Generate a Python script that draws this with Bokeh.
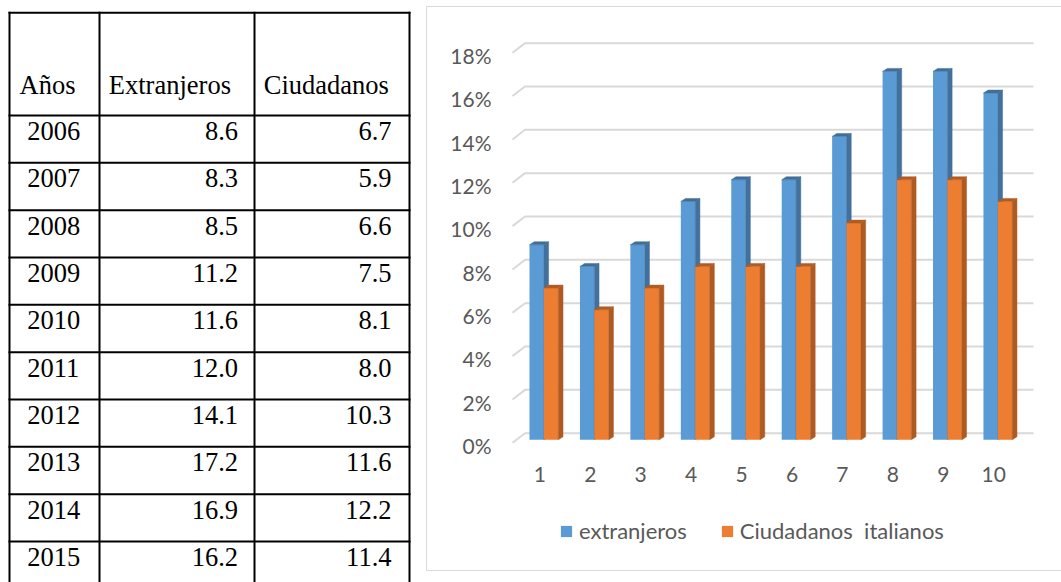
from bokeh.plotting import figure
from bokeh.models import (Range1d, LinearAxis, FixedTicker, PrintfTickFormatter,
                          Legend, LegendItem)
from bokeh.embed import file_html
from bokeh.resources import INLINE
from bokeh.core.properties import value

# ---------------- data ----------------
header = ["Años", "Extranjeros", "Ciudadanos"]
years = ["2006", "2007", "2008", "2009", "2010", "2011", "2012", "2013", "2014", "2015"]
extranjeros_tabla = ["8.6", "8.3", "8.5", "11.2", "11.6", "12.0", "14.1", "17.2", "16.9", "16.2"]
ciudadanos_tabla = ["6.7", "5.9", "6.6", "7.5", "8.1", "8.0", "10.3", "11.6", "12.2", "11.4"]

categorias = [1, 2, 3, 4, 5, 6, 7, 8, 9, 10]
extranjeros = [9, 8, 9, 11, 12, 12, 14, 17, 17, 16]
ciudadanos = [7, 6, 7, 8, 8, 8, 10, 12, 12, 11]
y_ticks = [0, 2, 4, 6, 8, 10, 12, 14, 16, 18]
legend_labels = ["extranjeros", "Ciudadanos  italianos"]

# ---------------- geometry ----------------
W, H = 1061, 582
px_y = 21.67      # pixels per percentage point
base_abs = 439.3  # screen y of the 0 % bar base
px_x = 50.44      # pixels per category
cat1_abs = 539.3  # screen x of category 1

xr = Range1d(1 + (0 - cat1_abs) / px_x, 1 + (W - cat1_abs) / px_x)
yr = Range1d((base_abs - H) / px_y, (base_abs - 0) / px_y)
lab_abs = 445.0
lab_range = Range1d((lab_abs - H) / px_y, lab_abs / px_y)


def to_x(abs_x):
    return 1 + (abs_x - cat1_abs) / px_x


def to_y(abs_y):
    return (base_abs - abs_y) / px_y


p = figure(width=W, height=H, x_range=xr, y_range=yr, toolbar_location=None,
           output_backend="svg", x_axis_type=None, y_axis_type=None, min_border=0)
p.extra_x_ranges = {"px": Range1d(0, W)}
p.extra_y_ranges = {"py": Range1d(H, 0), "lab": lab_range}
p.outline_line_color = None
p.background_fill_color = "white"

# chart border
p.quad(left=[426], right=[W + 10], top=[6], bottom=[570], x_range_name="px", y_range_name="py",
       fill_color=None, line_color="#D9D9D9", line_width=1)

# ---------------- table (left) ----------------
col_x = [9, 99, 254, 409]
top_y = 12.3
head_bottom = 115.0
row_h = 47.33
n = len(years)
h_lines = [top_y] + [head_bottom + k * row_h for k in range(n + 1)]

p.segment(x0=col_x, y0=[top_y] * 4, x1=col_x, y1=[H + 20] * 4,
          x_range_name="px", y_range_name="py",
          line_color="black", line_width=2, line_cap="square")
p.segment(x0=[col_x[0]] * len(h_lines), y0=h_lines, x1=[col_x[-1]] * len(h_lines), y1=h_lines,
          x_range_name="px", y_range_name="py",
          line_color="black", line_width=2, line_cap="square")

serif = value("Liberation Serif")
fs = "26.5px"
common = dict(x_range_name="px", y_range_name="py", text_font=serif, text_font_size=fs,
              text_color="black", text_baseline="middle")
p.text(x=[19, 108.3, 263.3], y=[84.0] * 3, text=header, text_align="left", **common)
row_mid = [head_bottom + k * row_h + 15.5 for k in range(n)]
p.text(x=[26.7] * n, y=row_mid, text=years, text_align="left", **common)
p.text(x=[237.5] * n, y=row_mid, text=extranjeros_tabla, text_align="right", **common)
p.text(x=[391] * n, y=row_mid, text=ciudadanos_tabla, text_align="right", **common)

# ---------------- chart (right) ----------------
label_color = "#595959"

xa = LinearAxis(ticker=FixedTicker(ticks=categorias), fixed_location=to_y(450))
xa.axis_line_color = None
xa.major_tick_line_color = None
xa.minor_tick_line_color = None
xa.major_label_text_font = "Lato"
xa.major_label_text_font_size = "21px"
xa.major_label_text_color = label_color
xa.major_label_standoff = 10
p.add_layout(xa, "below")

ya = LinearAxis(y_range_name="lab", ticker=FixedTicker(ticks=y_ticks),
                formatter=PrintfTickFormatter(format="%d%%"), fixed_location=to_x(512))
ya.axis_line_color = None
ya.major_tick_line_color = None
ya.minor_tick_line_color = None
ya.major_label_text_font = "Lato"
ya.major_label_text_font_size = "21px"
ya.major_label_text_color = label_color
ya.major_label_standoff = 15
p.add_layout(ya, "left")

# 3D-style gridlines (back wall + floor diagonal)
gx0, gx1, gx2 = to_x(512), to_x(524.5), to_x(1033)
front_dy = -3.0 / px_y
back_dy = 6.6 / px_y
g_xs, g_ys = [], []
for v in y_ticks:
    g_xs.append([gx0, gx1, gx2])
    g_ys.append([v + front_dy, v + back_dy, v + back_dy])
p.multi_line(xs=g_xs, ys=g_ys, line_color="#D9D9D9", line_width=2)

# bars
bw = 14.4 / px_x
off = -10.3 / px_x
dx = 4.7 / px_x
dy = 3.0 / px_y


def bar3d(lefts, vals, front, side, top):
    rights = [l + bw for l in lefts]
    r = p.quad(left=lefts, right=rights, bottom=[0] * len(vals), top=vals,
               fill_color=front, line_color=None)
    p.patches(xs=[[rr, rr + dx, rr + dx, rr] for rr in rights],
              ys=[[0, dy, v + dy, v] for v in vals],
              fill_color=side, line_color=side, line_width=0.5)
    p.patches(xs=[[l, rr, rr + dx, l + dx] for l, rr in zip(lefts, rights)],
              ys=[[v, v, v + dy, v + dy] for v in vals],
              fill_color=top, line_color=top, line_width=0.5)
    return r, rights


blue_left = [c + off for c in categorias]
r_blue, blue_right = bar3d(blue_left, extranjeros, "#5B9BD5", "#41719C", "#3F6E99")
r_orange, _ = bar3d(blue_right, ciudadanos, "#ED7D31", "#AE5A21", "#B25C22")

legend = Legend(items=[LegendItem(label=legend_labels[0], renderers=[r_blue]),
                       LegendItem(label=legend_labels[1], renderers=[r_orange])],
                orientation="horizontal", location=(559, 38),
                glyph_width=14, glyph_height=14, label_standoff=6, spacing=33,
                padding=0, margin=0, border_line_color=None, background_fill_alpha=0,
                label_text_font="Lato", label_text_font_size="22px",
                label_text_color=label_color)
p.add_layout(legend)

open("out.html", "w").write(file_html(p, INLINE))
